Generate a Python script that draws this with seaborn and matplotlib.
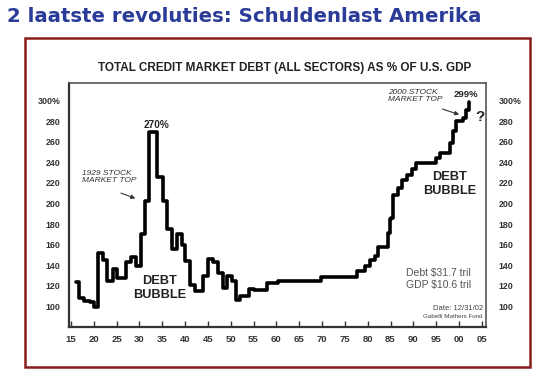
import matplotlib
matplotlib.use("Agg")
import matplotlib.pyplot as plt
import seaborn as sns
import pandas as pd
from matplotlib.patches import Rectangle

# ---- data ----
years = [1916.1, 1916.8, 1917.8, 1919.2, 1920.1, 1920.9, 1922.1, 1923.0, 1924.2, 1925.1,
         1927.0, 1928.1, 1929.3, 1930.3, 1931.3, 1932.1, 1933.8, 1935.1, 1936.0, 1937.1,
         1938.2, 1939.3, 1940.0, 1941.1, 1942.2, 1944.0, 1945.1, 1946.2, 1947.3, 1948.3,
         1949.3, 1950.2, 1951.1, 1952.0, 1954.0, 1955.1, 1958.0, 1960.4, 1969.7, 1977.6,
         1979.5, 1980.6, 1981.6, 1982.3, 1984.5, 1984.9, 1985.2, 1985.6, 1986.6, 1987.6,
         1988.6, 1989.6, 1990.6, 1995.0, 1995.8, 1998.0, 1998.7, 1999.3, 2000.9, 2001.5,
         2002.2]
debt_pct = [124, 108, 105.5, 104, 99, 152, 145, 125, 136, 128,
            143, 148, 139, 170, 202, 269, 226, 202, 175, 156,
            170, 160, 144, 121, 115, 130, 146, 143, 132, 118,
            130, 125, 106, 110, 117, 115.5, 123, 125, 129, 134,
            139, 144.7, 148.5, 158, 171, 185, 186, 208, 215, 223,
            228, 233, 239, 244, 249, 259, 270, 280, 283, 291,
            299]
x_ticks = [1915, 1920, 1925, 1930, 1935, 1940, 1945, 1950, 1955, 1960,
           1965, 1970, 1975, 1980, 1985, 1990, 1995, 2000, 2005]
x_tick_labels = ["15", "20", "25", "30", "35", "40", "45", "50", "55", "60",
                 "65", "70", "75", "80", "85", "90", "95", "00", "05"]
y_ticks = [100, 120, 140, 160, 180, 200, 220, 240, 260, 280, 300]
y_tick_labels = ["100", "120", "140", "160", "180", "200", "220", "240", "260", "280", "300%"]

df = pd.DataFrame({"year": years, "pct": debt_pct})

sns.set_theme(style="white")
plt.rcParams['font.family'] = ['DejaVu Sans']

W, H = 554, 371
fig = plt.figure(figsize=(W / 100, H / 100), dpi=100)
fig.patch.set_facecolor("white")

# outer dark-red frame
fig.patches.append(Rectangle((25 / W, 1 - 367 / H), (530 - 25) / W, (367 - 38) / H,
                             transform=fig.transFigure, fill=False,
                             edgecolor="#8a1c1c", linewidth=1.8))

fig.text(7 / W, 1 - 16 / H, "2 laatste revoluties: Schuldenlast Amerika",
         color="#2b3c98", fontsize=14.2, fontweight="bold", ha="left", va="center")
fig.text(285 / W, 1 - 68 / H, "TOTAL CREDIT MARKET DEBT (ALL SECTORS) AS % OF U.S. GDP",
         family="Liberation Sans", fontsize=8.5, fontweight="bold", color="#222",
         ha="center", va="center")

ax = fig.add_axes([69 / W, 1 - 327 / H, (486 - 69) / W, (327 - 83) / H])
sns.lineplot(data=df, x="year", y="pct", drawstyle="steps-post", estimator=None,
             color="black", linewidth=2.6, ax=ax)
ax.set_xlim(1914.6, 2005.9)
ax.set_ylim(80, 317)
ax.set_xlabel("")
ax.set_ylabel("")
ax.set_xticks(x_ticks)
ax.set_xticklabels(x_tick_labels, family="Liberation Sans", fontsize=6.8,
                   fontweight="bold", color="#333")
ax.set_yticks(y_ticks)
ax.set_yticklabels(y_tick_labels, family="Liberation Sans", fontsize=6.4,
                   fontweight="bold", color="#333")
ax.tick_params(axis="x", direction="in", length=4, width=1, color="#333", pad=6, bottom=True)
ax.tick_params(axis="y", length=0, pad=6)
for s in ax.spines.values():
    s.set_color("#555")
    s.set_linewidth(1.2)
ax.spines["left"].set_linewidth(1.6)
ax.spines["bottom"].set_linewidth(1.6)
ax.spines["left"].set_color("#333")
ax.spines["bottom"].set_color("#333")

ax2 = ax.twinx()
ax2.set_ylim(ax.get_ylim())
ax2.set_yticks(y_ticks)
ax2.set_yticklabels(y_tick_labels, family="Liberation Sans", fontsize=6.4,
                    fontweight="bold", color="#333")
ax2.tick_params(axis="y", length=0, pad=9)
for s in ax2.spines.values():
    s.set_visible(False)
ax2.grid(False)

# annotations
ax.text(1933.7, 276, "270%", family="Liberation Sans", fontsize=7.2, fontweight="bold",
        ha="center", va="center", color="#222")
ax.text(2001.6, 305.5, "299%", family="Liberation Sans", fontsize=6.8, fontweight="bold",
        ha="center", va="center", color="#222")
ax.text(2004.6, 284, "?", family="Liberation Sans", fontsize=11, fontweight="bold",
        ha="center", va="center", color="#222")
ax.text(1917.4, 226, "1929 STOCK\nMARKET TOP", family="Liberation Sans", fontsize=6,
        fontstyle="italic", ha="left", va="center", color="#333", linespacing=1.0)
ax.annotate("", xy=(1929.7, 204), xytext=(1925.4, 211),
            arrowprops=dict(arrowstyle="-|>", color="#333", lw=0.8, mutation_scale=6))
ax.text(1984.5, 304, "2000 STOCK\nMARKET TOP", family="Liberation Sans", fontsize=6,
        fontstyle="italic", ha="left", va="center", color="#333", linespacing=1.0)
ax.annotate("", xy=(2000.6, 285.5), xytext=(1995.8, 292.5),
            arrowprops=dict(arrowstyle="-|>", color="#333", lw=0.8, mutation_scale=6))
ax.text(1934.5, 118, "DEBT\nBUBBLE", family="Liberation Sans", fontsize=9.2,
        fontweight="bold", ha="center", va="center", color="#222", linespacing=1.25)
ax.text(1998.0, 219, "DEBT\nBUBBLE", family="Liberation Sans", fontsize=9.2,
        fontweight="bold", ha="center", va="center", color="#222", linespacing=1.25)
ax.text(1988.3, 126.5, "Debt $31.7 tril\nGDP $10.6 tril", family="Liberation Sans",
        fontsize=7.5, ha="left", va="center", color="#555", linespacing=1.2)
ax.text(2005.2, 97.8, "Date: 12/31/02", family="Liberation Sans", fontsize=5.5,
        ha="right", va="center", color="#444")
ax.text(2005.2, 90, "Gabelli Mathers Fund", family="Liberation Sans", fontsize=4.5,
        ha="right", va="center", color="#444")

fig.savefig("out.png", dpi=100, facecolor="white")
